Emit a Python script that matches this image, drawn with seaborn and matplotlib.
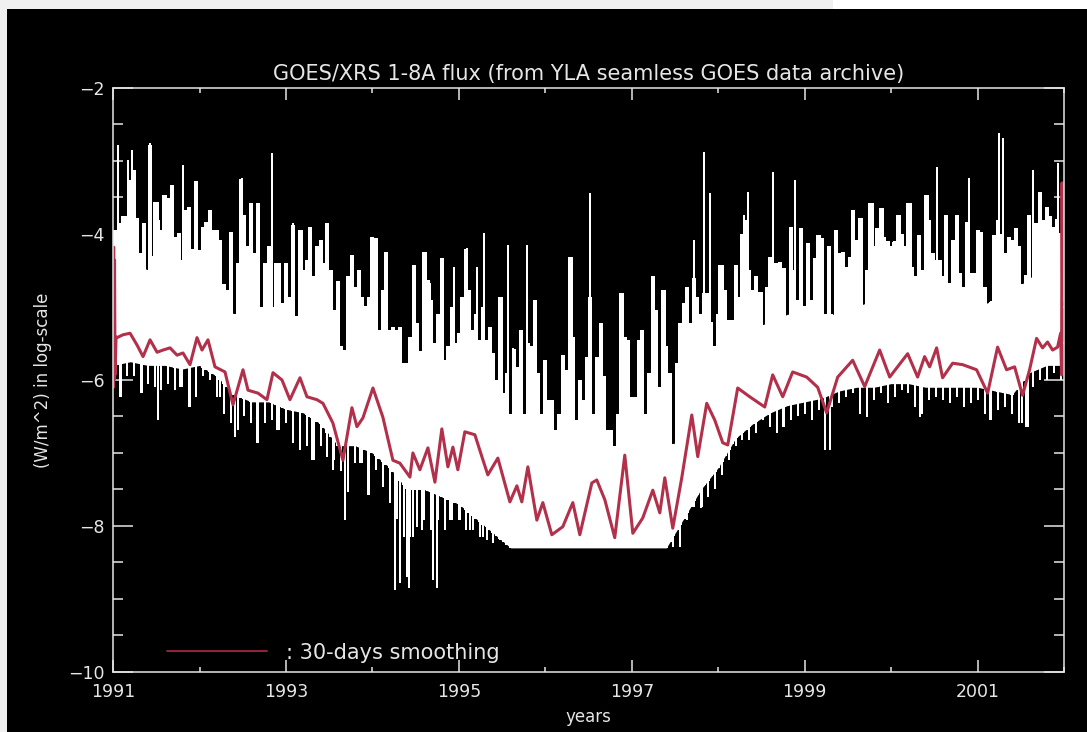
import numpy as np
import matplotlib
matplotlib.use('Agg')
import matplotlib.pyplot as plt
import seaborn as sns
from matplotlib.lines import Line2D
from matplotlib.patches import Rectangle
from matplotlib.ticker import MultipleLocator

# ── data (years, log10 flux) ──────────────────────────────────────────────────
# solid body of the daily trace: upper / lower edge
core_t = [1991.0, 1991.2, 1991.4, 1991.6, 1991.8, 1992.0, 1992.2, 1992.4, 1992.6, 1992.8,
          1993.0, 1993.2, 1993.4, 1993.6, 1993.8, 1994.0, 1994.2, 1994.4, 1994.6, 1994.8,
          1995.0, 1995.2, 1995.4, 1995.6, 1995.8, 1996.0, 1996.2, 1996.4, 1996.6, 1996.8,
          1997.0, 1997.2, 1997.4, 1997.6, 1997.8, 1998.0, 1998.2, 1998.4, 1998.6, 1998.8,
          1999.0, 1999.2, 1999.4, 1999.6, 1999.8, 2000.0, 2000.2, 2000.4, 2000.6, 2000.8,
          2001.0, 2001.2, 2001.4, 2001.6, 2001.8, 2001.98]
core_hi = [-4.3, -4.3, -4.5, -4.6, -4.7, -4.8, -4.9, -5.1, -5.1, -5.2,
           -5.2, -5.3, -5.5, -5.7, -5.8, -5.8, -6.0, -6.1, -6.1, -6.1,
           -6.2, -6.3, -6.5, -6.8, -6.9, -7.0, -7.1, -7.0, -7.0, -7.0,
           -7.1, -7.0, -7.0, -6.7, -6.2, -5.8, -5.5, -5.3, -5.2, -5.1,
           -5.1, -5.1, -5.1, -5.0, -4.9, -4.9, -4.9, -4.9, -4.9, -4.9,
           -5.0, -4.9, -4.8, -4.6, -4.5, -4.6]
core_lo = [-5.80, -5.75, -5.80, -5.80, -5.85, -5.80, -5.95, -6.20, -6.30, -6.30,
           -6.40, -6.45, -6.60, -6.90, -6.90, -7.00, -7.20, -7.50, -7.50, -7.60,
           -7.70, -7.90, -8.10, -8.30, -8.30, -8.30, -8.30, -8.30, -8.30, -8.30,
           -8.30, -8.30, -8.30, -7.90, -7.50, -7.20, -6.80, -6.60, -6.45, -6.35,
           -6.30, -6.25, -6.15, -6.10, -6.10, -6.05, -6.05, -6.10, -6.10, -6.10,
           -6.10, -6.15, -6.20, -5.90, -5.80, -5.80]

# ragged top of the trace, one value every 0.04 yr from 1991.00
col_top = [-3.95, -3.95, -3.85, -3.76, -3.76, -3.26, -3.12, -3.78, -4.26, -3.85,
           -4.54, -4.30, -3.56, -3.81, -3.95, -3.47, -3.51, -3.33, -4.04, -3.99,
           -4.35, -3.67, -3.63, -4.20, -3.28, -4.22, -3.90, -3.83, -3.67, -3.95,
           -3.95, -4.08, -4.68, -4.77, -3.97, -5.09, -4.40, -3.24, -3.74, -4.17,
           -3.58, -4.26, -3.58, -5.00, -4.40, -4.17, -5.00, -4.40, -4.40, -4.95,
           -4.40, -4.86, -3.88, -5.13, -3.95, -4.49, -4.36, -3.90, -4.58, -4.17,
           -4.08, -4.40, -3.85, -4.49, -5.04, -4.65, -5.54, -5.59, -4.58, -4.29,
           -4.72, -4.49, -4.86, -4.99, -4.86, -4.04, -4.06, -5.31, -4.77, -4.24,
           -5.31, -5.27, -5.31, -5.27, -5.77, -5.77, -5.41, -4.42, -5.22,
           -5.60, -4.24, -4.63, -4.90, -5.50, -5.09, -4.33, -5.73, -5.54, -5.00,
           -5.50, -5.36, -4.86, -4.20, -4.77, -5.31, -5.09, -5.45, -5.00, -5.45,
           -5.27, -5.63, -6.00, -4.86, -6.18, -5.90, -6.46, -5.57, -5.82, -5.31,
           -6.46, -5.50, -5.54, -4.90, -5.91, -6.46, -5.73, -6.27, -6.27, -6.68,
           -6.46, -5.66, -5.86, -4.31, -5.41, -6.55, -6.00, -6.27, -5.68, -4.86,
           -6.46, -5.68, -5.22, -5.95, -6.68, -6.68, -6.91, -6.46, -4.81, -5.41,
           -5.45, -6.23, -6.23, -5.45, -5.31, -6.46, -5.91, -4.58, -5.04, -6.09,
           -4.77, -5.54, -5.91, -6.91, -5.77, -5.22, -4.95, -4.72, -5.22, -4.60,
           -4.86, -5.09, -4.81, -4.81, -5.20, -5.54, -5.09, -4.42, -4.77, -5.18,
           -5.18, -4.42, -4.86, -4.00, -3.81, -4.50, -4.77, -4.58, -4.79, -5.36,
           -4.72, -4.31, -4.40, -4.40, -4.38, -4.47, -5.40, -3.90, -4.50, -4.90,
           -3.92, -4.99, -4.13, -4.90, -4.33, -4.01, -4.06, -5.09, -4.17, -5.13,
           -3.95, -4.26, -4.24, -4.45, -4.31, -3.67, -4.08, -3.78, -5.00, -4.49,
           -3.58, -4.17, -3.92, -3.65, -4.04, -4.10, -4.17, -4.10, -3.74, -4.00,
           -4.17, -3.58, -4.45, -4.58, -4.01, -4.49, -3.47, -3.81, -4.26, -4.35,
           -4.35, -4.58, -3.74, -4.67, -4.08, -3.74, -4.54, -4.72, -3.83, -4.54,
           -4.54, -3.95, -3.97, -4.72, -5.00, -5.59, -4.01, -3.81, -4.00, -4.26,
           -4.04, -4.08, -3.92, -4.17, -5.18, -4.56, -3.74, -4.72, -3.85, -3.42,
           -3.81, -3.63, -3.76, -3.90, -3.80, -3.99]
col_t = np.round(1991.0 + 0.04 * np.arange(len(col_top)), 2)

# ragged bottom of the trace, one value every 0.08 yr from 1991.00
col_bot = [-6.05, -6.23, -5.95, -5.95, -6.18, -6.05, -6.10, -6.14, -6.05, -6.14,
           -6.09, -6.37, -6.23, -5.95, -6.00, -6.23, -6.46, -6.59, -6.68, -6.50,
           -6.59, -6.87, -6.59, -6.55, -6.68, -6.59, -6.87, -6.96, -6.91, -7.10,
           -6.91, -7.05, -7.10, -7.25, -7.30, -7.14, -7.14, -7.58, -7.23, -7.46,
           -7.69, -7.90, -8.15, -8.15, -8.01, -7.92, -8.05, -7.92, -8.05, -7.92,
           -7.92, -8.05, -8.05, -8.15, -8.19, -8.24, -8.19, -8.21,
           -8.29, -8.29, -8.29, -8.29, -8.29, -8.29, -8.29, -8.29, -8.29, -8.29,
           -8.29, -8.29, -8.29, -8.29, -8.29, -8.29, -8.29, -8.29, -8.29, -8.29,
           -8.29, -8.29, -8.29, -8.29, -8.29,
           -7.92, -7.74, -7.75, -7.60, -7.50, -7.30, -7.10,
           -6.91, -6.82, -6.82, -6.73, -6.55, -6.64, -6.73, -6.64, -6.55, -6.50,
           -6.46, -6.55, -6.41, -6.96, -6.37, -6.32, -6.23, -6.18, -6.46, -6.50,
           -6.27, -6.18, -6.32, -6.23, -6.14, -6.18, -6.37, -6.46, -6.27, -6.23,
           -6.27, -6.32, -6.23, -6.37, -6.32, -6.27, -6.46, -6.55, -6.41, -6.37,
           -6.46, -6.59, -6.64, -6.09, -6.00, -6.00, -5.91, -6.00]
bot_t = np.round(1991.0 + 0.08 * np.arange(len(col_bot)), 2)

# tallest flare spikes
up_t = [1991.058, 1991.173, 1991.220, 1991.420, 1991.428, 1991.436, 1991.520, 1991.578, 1991.682, 1991.809,
        1991.867, 1991.960, 1992.121, 1992.202, 1992.353, 1992.491, 1992.584, 1992.688, 1992.838, 1992.931,
        1993.081, 1993.185, 1993.289, 1993.370, 1993.474, 1993.601, 1993.763, 1993.855, 1994.006, 1994.052,
        1994.145, 1994.318, 1994.491, 1994.618, 1994.665, 1994.792, 1994.942, 1995.092, 1995.208, 1995.289,
        1995.497, 1995.566, 1995.624, 1995.786, 1995.879, 1996.006, 1996.202, 1996.306, 1996.514, 1996.642,
        1996.896, 1997.081, 1997.243, 1997.382, 1997.590, 1997.717, 1997.832, 1997.902, 1998.006, 1998.214,
        1998.295, 1998.341, 1998.445, 1998.503, 1998.630, 1998.711, 1998.884, 1998.965, 1999.035, 1999.139,
        1999.208, 1999.347, 1999.439, 1999.566, 1999.659, 1999.786, 1999.902, 2000.017, 2000.098, 2000.225,
        2000.329, 2000.422, 2000.526, 2000.642, 2000.746, 2000.873, 2000.896, 2001.046, 2001.173, 2001.243,
        2001.289, 2001.439, 2001.578, 2001.636, 2001.728, 2001.798, 2001.925]
up_v = [-2.78, -2.99, -2.85, -2.78, -2.75, -2.78, -3.56, -3.47, -3.33, -3.05,
        -3.63, -3.29, -3.67, -3.95, -3.99, -3.23, -3.58, -3.58, -2.89, -4.40,
        -3.85, -3.95, -3.90, -4.19, -3.85, -4.66, -4.29, -4.49, -4.04, -4.05,
        -4.25, -5.27, -4.42, -4.25, -4.67, -4.33, -4.45, -4.19, -4.45, -3.99,
        -4.86, -4.15, -5.56, -4.15, -4.90, -5.73, -5.66, -4.32, -3.44, -5.22,
        -4.81, -5.45, -4.59, -4.77, -4.95, -4.08, -2.88, -3.44, -4.42, -4.42,
        -3.74, -3.42, -4.59, -4.79, -3.15, -4.38, -3.26, -3.92, -4.12, -4.01,
        -4.05, -3.95, -4.25, -3.67, -3.78, -3.58, -3.64, -4.11, -3.74, -3.58,
        -4.01, -3.47, -3.08, -3.74, -3.74, -3.84, -3.23, -3.97, -4.01, -2.62,
        -2.69, -3.92, -3.74, -3.12, -3.42, -3.63, -3.03]

# deepest dips below the body
down_t = [1991.092, 1991.335, 1991.520, 1991.775, 1991.890, 1992.237, 1992.410, 1992.665, 1992.896, 1993.301,
          1993.543, 1993.682, 1993.717, 1993.855, 1993.948, 1994.260, 1994.318, 1994.399, 1994.422, 1994.468,
          1994.572, 1994.699, 1994.746, 1994.896, 1995.012, 1995.127, 1995.277, 1997.636, 1997.809, 1998.075,
          1998.746, 1999.289, 1999.717, 2000.329, 2001.139, 2001.509, 2001.578]
down_v = [-6.23, -6.18, -6.55, -6.10, -6.37, -6.23, -6.78, -6.86, -6.68, -7.10,
          -7.23, -7.92, -7.53, -7.14, -7.58, -8.88, -8.78, -8.70, -8.85, -8.15,
          -8.05, -8.74, -8.85, -7.92, -7.92, -8.05, -8.15, -7.92, -7.74, -6.92,
          -6.64, -6.96, -6.51, -6.51, -6.55, -6.59, -6.64]

# 30-day running mean
smooth_t = [1991.000, 1991.003, 1991.007, 1991.012, 1991.017, 1991.023, 1991.035, 1991.046, 1991.116, 1991.197,
            1991.277, 1991.347, 1991.428, 1991.509, 1991.578, 1991.659, 1991.740, 1991.809, 1991.890, 1991.971,
            1992.029, 1992.098, 1992.179, 1992.295, 1992.387, 1992.503, 1992.561, 1992.676, 1992.780, 1992.850,
            1992.954, 1993.046, 1993.162, 1993.243, 1993.358, 1993.428, 1993.543, 1993.659, 1993.763, 1993.821,
            1993.890, 1994.006, 1994.121, 1994.237, 1994.318, 1994.434, 1994.468, 1994.549, 1994.642, 1994.723,
            1994.803, 1994.873, 1994.931, 1994.988, 1995.069, 1995.185, 1995.266, 1995.335, 1995.451, 1995.590,
            1995.671, 1995.728, 1995.798, 1995.902, 1995.971, 1996.075, 1996.202, 1996.318, 1996.399, 1996.538,
            1996.595, 1996.688, 1996.803, 1996.919, 1997.012, 1997.127, 1997.243, 1997.324, 1997.382, 1997.474,
            1997.578, 1997.694, 1997.763, 1997.867, 1997.960, 1998.052, 1998.110, 1998.225, 1998.364, 1998.538,
            1998.630, 1998.746, 1998.861, 1999.023, 1999.150, 1999.254, 1999.382, 1999.555, 1999.694, 1999.867,
            1999.983, 2000.191, 2000.306, 2000.387, 2000.445, 2000.526, 2000.595, 2000.711, 2000.827, 2000.988,
            2001.116, 2001.231, 2001.335, 2001.428, 2001.520, 2001.601, 2001.682, 2001.751, 2001.809, 2001.867,
            2001.925, 2001.960, 2001.971, 2001.977, 2001.983]
smooth_v = [-5.45, -6.10, -4.18, -6.00, -4.36, -5.93, -5.41, -5.42, -5.38, -5.36,
            -5.52, -5.68, -5.45, -5.62, -5.59, -5.56, -5.66, -5.63, -5.79, -5.42,
            -5.59, -5.45, -5.82, -5.89, -6.34, -5.86, -6.14, -6.18, -6.27, -5.90,
            -6.00, -6.27, -5.97, -6.23, -6.27, -6.32, -6.59, -7.10, -6.38, -6.64,
            -6.52, -6.11, -6.51, -7.10, -7.14, -7.33, -7.00, -7.23, -6.93, -7.40,
            -6.67, -7.19, -6.92, -7.23, -6.71, -6.75, -7.05, -7.30, -7.07, -7.67,
            -7.45, -7.67, -7.19, -7.92, -7.68, -8.12, -8.01, -7.68, -8.12, -7.41,
            -7.37, -7.64, -8.16, -7.03, -8.10, -7.89, -7.51, -7.82, -7.34, -8.03,
            -7.34, -6.48, -7.05, -6.32, -6.55, -6.86, -6.89, -6.11, -6.23, -6.37,
            -5.93, -6.23, -5.89, -5.96, -6.10, -6.45, -5.96, -5.73, -6.09, -5.59,
            -5.96, -5.64, -5.96, -5.68, -5.82, -5.56, -5.97, -5.77, -5.79, -5.86,
            -6.18, -5.55, -5.86, -5.82, -6.21, -5.86, -5.43, -5.56, -5.48, -5.59,
            -5.55, -5.36, -5.93, -3.30, -4.90]

x_major = [1991, 1993, 1995, 1997, 1999, 2001]
y_major = [-2, -4, -6, -8, -10]

# ── style ─────────────────────────────────────────────────────────────────────
sns.set_theme(style='ticks')
plt.rcParams['font.family'] = ['DejaVu Sans']
FG = '#e6e6e6'
RED = '#b3304b'

fig = plt.figure(figsize=(10.87, 7.32), dpi=100, facecolor='black')
# page strips of the screenshot (left and top margins)
fig.patches.append(Rectangle((0, 0), 7 / 1087, 1, transform=fig.transFigure,
                             facecolor='#f0f0f0', edgecolor='none', zorder=-1))
fig.patches.append(Rectangle((0, 1 - 9 / 732), 833 / 1087, 9 / 732, transform=fig.transFigure,
                             facecolor='#f0f0f0', edgecolor='none', zorder=-1))
fig.patches.append(Rectangle((833 / 1087, 1 - 9 / 732), 1, 9 / 732, transform=fig.transFigure,
                             facecolor='white', edgecolor='none', zorder=-1))

ax = fig.add_axes([0.1040, 0.0820, 0.8749, 0.7978])
ax.set_facecolor('black')

# daily flux trace
ax.fill_between(core_t, core_lo, core_hi, color='white', lw=0, zorder=2)
ax.vlines(col_t, np.interp(col_t, core_t, core_lo), col_top, color='white', lw=1.55,
          antialiased=False, zorder=2)
ax.vlines(bot_t, col_bot, np.interp(bot_t, core_t, core_hi), color='white', lw=1.4,
          antialiased=False, zorder=2)
ax.vlines(up_t, np.interp(up_t, core_t, core_lo), up_v, color='white', lw=1.1,
          antialiased=False, zorder=2)
ax.vlines(down_t, down_v, np.interp(down_t, core_t, core_hi), color='white', lw=1.1,
          antialiased=False, zorder=2)

# smoothed curve
sns.lineplot(x=smooth_t, y=smooth_v, color=RED, lw=2.2, sort=False, estimator=None, ax=ax, zorder=3)

ax.set_xlim(1991, 2002)
ax.set_ylim(-10, -2)
ax.set_xticks(x_major)
ax.set_xticklabels([str(y) for y in x_major])
ax.xaxis.set_minor_locator(MultipleLocator(1))
ax.set_yticks(y_major)
ax.yaxis.set_minor_locator(MultipleLocator(0.5))

for s in ax.spines.values():
    s.set_color(FG)
    s.set_linewidth(1.1)
    s.set_zorder(4)
ax.tick_params(axis='both', which='both', direction='in', top=True, right=True,
               color=FG, labelcolor=FG, width=1.1, labelsize=12.5)
ax.tick_params(axis='x', which='major', length=8.6, pad=8)
ax.tick_params(axis='x', which='minor', length=3.6)
ax.tick_params(axis='y', which='major', length=14.4, pad=6)
ax.tick_params(axis='y', which='minor', length=7.2)

ax.set_title('GOES/XRS 1-8A flux (from YLA seamless GOES data archive)', color=FG, fontsize=15, pad=6)
ax.set_xlabel('years', color=FG, fontsize=12)
ax.set_ylabel('(W/m^2) in log-scale', color=FG, fontsize=12)
ax.xaxis.set_label_coords(0.5, -0.062)
ax.yaxis.set_label_coords(-0.064, 0.5)

leg = ax.legend(handles=[Line2D([], [], color='#9c2a40', lw=1.3)], labels=[': 30-days smoothing'],
                loc='lower left', bbox_to_anchor=(0.0568, 0.016), frameon=False, fontsize=15,
                handlelength=4.8, handletextpad=0.9, borderaxespad=0, borderpad=0, labelcolor=FG)

fig.savefig('out.png', dpi=100, facecolor=fig.get_facecolor())
